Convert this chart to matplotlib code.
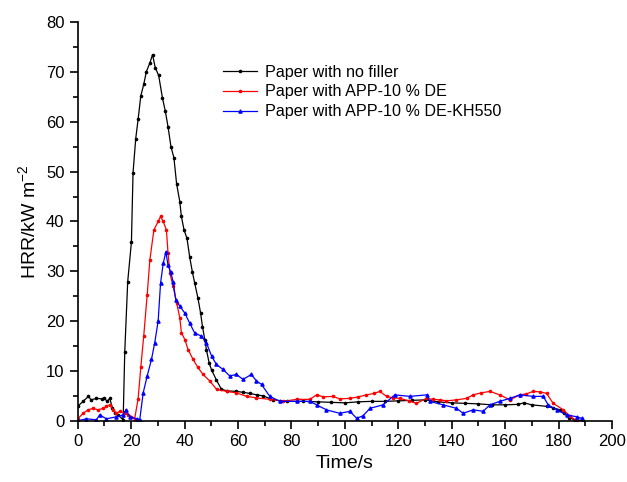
import numpy as np
import matplotlib
matplotlib.use("Agg")
import matplotlib.pyplot as plt
from matplotlib.ticker import MultipleLocator

plt.rcParams['font.family'] = ['Liberation Sans', 'DejaVu Sans']

# Paper with no filler
t_black = [0, 2, 4, 5, 7, 9, 10, 11, 12, 13, 14, 15, 17, 17.6, 18.7, 20.1, 20.7,
           21.7, 22.6, 23.6, 24.7, 25.7, 27, 28, 29, 30.3, 31.7, 32.8, 33.8, 34.9,
           36, 37, 38.2, 38.8, 39.8, 40.9, 41.9, 42.9, 43.8, 45, 46, 46.7, 47.6,
           48.2, 49.2, 50.1, 51.9, 53.8, 56, 59.4, 62, 64.4, 67, 69.4, 73.1, 78.2,
           84.4, 90, 95, 100, 105, 110, 115, 120, 125, 130, 135, 140, 145, 150,
           155, 160, 165, 167, 170, 175.5, 178, 180.4, 182, 184, 186, 189]
v_black = [2.9, 3.9, 4.9, 4.2, 4.5, 4.4, 4.5, 3.9, 4.5, 2.5, 1.5, 1.2, 0.2, 13.8,
           27.9, 35.9, 49.8, 56.6, 60.5, 65.2, 67.5, 70.1, 71.8, 73.5, 70.9, 69.3,
           64.8, 62.1, 59.0, 55.0, 52.8, 47.6, 44.0, 41.0, 38.3, 36.6, 32.9, 29.9,
           27.6, 24.6, 21.6, 18.9, 16.2, 14.2, 11.6, 10.2, 8.2, 6.3, 6.0, 5.9, 5.7,
           5.5, 5.2, 5.0, 4.2, 3.9, 3.9, 3.8, 3.7, 3.6, 3.8, 3.9, 3.9, 4.0, 4.1,
           4.2, 3.8, 3.6, 3.5, 3.4, 3.2, 3.2, 3.3, 3.6, 3.2, 2.9, 2.6, 2.2, 1.5,
           0.6, 0.2, 0.0]

# Paper with APP-10 % DE
t_red = [0, 2, 3.9, 5.7, 7.6, 9.5, 10.7, 12, 13.2, 14.5, 15.7, 17.6, 18.8, 20.1,
         21.3, 22.6, 23.6, 24.7, 26, 27, 28.5, 30.1, 31, 32, 33.2, 33.8, 34.5,
         35.7, 37, 38.2, 38.8, 40.1, 41.3, 43.2, 45, 46.9, 49.4, 52, 55.7, 59.4,
         63.2, 66.9, 71.9, 76.9, 81.9, 86.9, 89.4, 92, 95.6, 98, 101.9, 105,
         108.1, 111, 113.1, 115.6, 118, 120.6, 124, 126.8, 130.6, 133, 135.6,
         138, 141.8, 145.6, 148, 151, 154.3, 158, 161.8, 165.5, 168, 170.5,
         173, 175.5, 178, 181.8, 184.3, 186.8]
v_red = [0.4, 1.5, 2.2, 2.5, 2.2, 2.5, 2.9, 3.2, 2.2, 1.5, 1.9, 1.5, 1.2, 0.8,
         0.4, 4.4, 10.7, 17.0, 25.3, 32.3, 38.3, 40.0, 41.0, 40.0, 38.3, 33.6,
         29.6, 27.0, 23.7, 20.7, 17.7, 16.3, 14.3, 12.3, 10.7, 9.3, 8.0, 6.3, 5.9,
         5.6, 4.9, 4.6, 4.3, 3.9, 4.3, 4.3, 5.2, 4.8, 4.9, 4.4, 4.5, 4.8, 5.2,
         5.5, 5.9, 4.9, 4.6, 4.5, 4.0, 3.5, 4.5, 4.3, 4.2, 4.0, 4.2, 4.5, 5.2,
         5.6, 5.9, 5.2, 4.2, 5.2, 5.4, 5.9, 5.8, 5.5, 3.5, 2.2, 0.9, 0.0]

# Paper with APP-10 % DE-KH550
t_blue = [0, 3.2, 7, 8.2, 10.7, 14.5, 17, 18, 19.5, 22, 23.2, 24.5, 26, 27.6,
          28.8, 30.1, 31, 32, 33, 33.8, 34.8, 35.7, 36.7, 38.2, 40.1, 41.9, 43.8,
          46.3, 48.2, 50.1, 51.9, 54.4, 56.9, 59.4, 61.9, 65, 66.9, 68.8, 71.9,
          75.7, 81.9, 86.9, 89.4, 93.1, 98.1, 101.9, 104.4, 106.8, 109.4, 114.3,
          118.7, 124.3, 130.6, 131.8, 136.8, 141.8, 144.3, 148, 151.8, 154.3,
          158, 161.8, 165.5, 170.5, 174.3, 176.1, 179.3, 183, 186.8, 188.6]
v_blue = [0.0, 0.4, 0.2, 1.2, 0.4, 0.8, 1.2, 2.2, 0.8, 0.4, 0.2, 5.6, 9.0, 12.3,
          15.6, 20.0, 27.6, 31.6, 33.9, 31.2, 29.9, 27.9, 24.3, 23.0, 21.6, 19.6,
          17.6, 17.0, 15.6, 13.0, 11.3, 10.3, 9.0, 9.3, 8.3, 9.3, 8.0, 7.3, 4.9,
          3.9, 3.9, 3.9, 3.2, 2.2, 1.5, 1.9, 0.5, 1.0, 2.5, 3.2, 5.2, 4.9, 5.2,
          3.9, 3.2, 2.5, 1.5, 2.2, 1.9, 3.2, 3.9, 4.5, 5.2, 4.9, 4.9, 3.2, 2.2,
          1.2, 0.8, 0.5]

labels = ['Paper with no filler', 'Paper with APP-10 % DE',
          'Paper with APP-10 % DE-KH550']

fig = plt.figure(figsize=(6.27, 4.82), dpi=100)
ax = fig.add_axes([0.124, 0.127, 0.852, 0.827])

ax.plot(t_black, v_black, color='black', lw=0.9, marker='o', ms=1.6, label=labels[0])
ax.plot(t_red, v_red, color='red', lw=0.9, marker='o', ms=1.6, label=labels[1])
ax.plot(t_blue, v_blue, color='blue', lw=0.9, marker='^', ms=2.3, label=labels[2])

ax.set_xlim(0, 200)
ax.set_ylim(0, 80)
ax.xaxis.set_major_locator(MultipleLocator(20))
ax.xaxis.set_minor_locator(MultipleLocator(10))
ax.yaxis.set_major_locator(MultipleLocator(10))
ax.yaxis.set_minor_locator(MultipleLocator(5))
ax.tick_params(which='major', direction='out', length=6, width=1.2, labelsize=12)
ax.tick_params(which='minor', direction='out', length=3.5, width=1.2)
for s in ['top', 'right']:
    ax.spines[s].set_visible(False)
for s in ['left', 'bottom']:
    ax.spines[s].set_linewidth(1.2)

ax.set_xlabel('Time/s', fontsize=14)
ax.set_ylabel(r'HRR/kW m$^{\mathregular{-2}}$', fontsize=14)

ax.legend(loc='upper left', bbox_to_anchor=(0.245, 0.93), frameon=False,
          fontsize=11.6, handlelength=2.1, handletextpad=0.5, labelspacing=0.3)

fig.savefig('out.png', dpi=100)
